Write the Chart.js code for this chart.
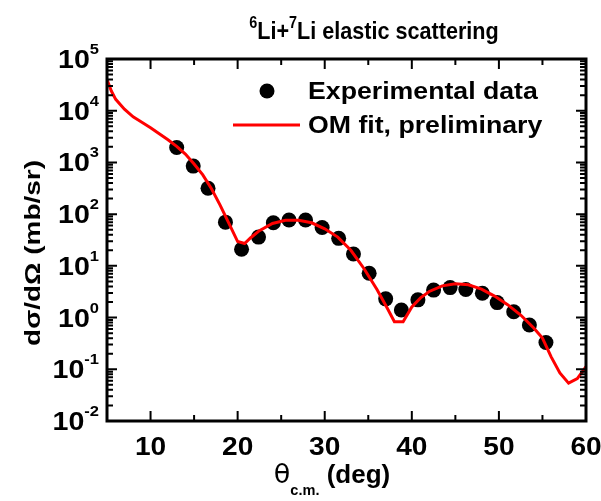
<!DOCTYPE html>
<html>
<head>
<meta charset="utf-8">
<script src="https://cdn.jsdelivr.net/npm/chart.js@4.4.1/dist/chart.umd.min.js"></script>
<style>
  html, body { margin: 0; padding: 0; background: #fff; }
  #wrap { width: 601px; height: 501px; }
</style>
</head>
<body>
<div id="wrap"><canvas id="chart" width="601" height="501"></canvas></div>
<script>
// experimental points (theta c.m. in deg, dsigma/dOmega in mb/sr)
const expTheta = [13.0, 14.9, 16.6, 18.6, 20.45, 22.4, 24.1, 25.9, 27.8, 29.7, 31.6, 33.3,
                  35.1, 37.0, 38.8, 40.7, 42.5, 44.4, 46.2, 48.1, 49.8, 51.7, 53.5, 55.4];
const expSigma = [1950, 850, 316, 70, 21, 36, 68, 77, 77, 55, 34, 17,
                  7.2, 2.3, 1.4, 2.2, 3.4, 3.8, 3.5, 2.95, 1.95, 1.3, 0.72, 0.33];

// optical model curve
const fitTheta = [5.0, 5.5, 6.0, 7.0, 8.0, 9.0, 10.0, 11.0, 12.0, 13.0, 14.0, 15.0, 16.0, 17.0,
                  18.0, 19.0, 20.0, 20.8, 21.5, 22.5, 24.0, 25.5, 27.0, 28.5, 30.0, 31.5, 33.0,
                  34.5, 36.0, 37.2, 38.0, 39.0, 40.0, 41.0, 42.0, 43.5, 45.0, 46.5, 48.0, 49.5,
                  51.0, 52.5, 54.0, 55.0, 56.0, 57.0, 58.0, 59.0, 60.0];
const fitSigma = [40000, 24000, 16600, 10700, 7600, 6000, 4700, 3600, 2750, 2050, 1450, 930, 575, 310,
                  148, 66, 29.5, 27, 35, 48, 66, 76, 76, 68, 52, 36, 20,
                  8.9, 3.5, 1.5, 0.83, 0.83, 1.6, 2.4, 3.2, 4.1, 4.5, 4.3, 3.55, 2.6,
                  1.78, 1.12, 0.63, 0.4, 0.174, 0.085, 0.054, 0.066, 0.112];

const xTicks = [10, 20, 30, 40, 50, 60];
const xMinor = [5, 15, 25, 35, 45, 55];
const yExp = [-2, -1, 0, 1, 2, 3, 4, 5];

const BOLD = '"Liberation Sans", Arial, sans-serif';

// draw a run of text pieces, stretched horizontally by sx
function rich(ctx, parts, x, y, align, sx) {
    let w = 0;
    parts.forEach(p => {
        ctx.font = (p.w || 'bold') + ' ' + p.s + 'px ' + (p.f || BOLD);
        p.width = ctx.measureText(p.t).width;
        w += p.width;
    });
    let x0 = x;
    if (align === 'center') x0 = x - w * sx / 2;
    else if (align === 'right') x0 = x - w * sx;
    ctx.save();
    ctx.translate(x0, y);
    ctx.scale(sx, 1);
    ctx.textBaseline = 'alphabetic';
    ctx.textAlign = 'left';
    ctx.fillStyle = '#000';
    let cx = 0;
    parts.forEach(p => {
        ctx.font = (p.w || 'bold') + ' ' + p.s + 'px ' + (p.f || BOLD);
        ctx.fillText(p.t, cx, p.dy || 0);
        cx += p.width;
    });
    ctx.restore();
}

const decor = {
    id: 'decor',
    afterDraw(chart) {
        const ctx = chart.ctx;
        const a = chart.chartArea;
        const xs = chart.scales.x, ys = chart.scales.y;
        ctx.save();
        ctx.strokeStyle = '#000';
        ctx.lineCap = 'butt';

        // inward ticks
        ctx.lineWidth = 2;
        ctx.beginPath();
        xTicks.concat(xMinor).forEach(v => {
            const px = xs.getPixelForValue(v);
            const len = xTicks.includes(v) ? 10 : 6;
            ctx.moveTo(px, a.bottom); ctx.lineTo(px, a.bottom - len);
            ctx.moveTo(px, a.top); ctx.lineTo(px, a.top + len);
        });
        yExp.forEach(e => {
            for (let m = 1; m <= 9; m++) {
                const v = m * Math.pow(10, e);
                if (v > 1e5 + 1) break;
                const py = ys.getPixelForValue(v);
                const len = m === 1 ? 10 : 6;
                ctx.moveTo(a.left, py); ctx.lineTo(a.left + len, py);
                ctx.moveTo(a.right, py); ctx.lineTo(a.right - len, py);
            }
        });
        ctx.stroke();

        // frame
        ctx.lineWidth = 3;
        ctx.strokeRect(a.left, a.top, a.right - a.left, a.bottom - a.top);

        // x tick labels
        xTicks.forEach(v => {
            rich(ctx, [{ t: String(v), s: 26 }], xs.getPixelForValue(v), 455, 'center', 1.08);
        });
        // y tick labels
        yExp.forEach(e => {
            const py = ys.getPixelForValue(Math.pow(10, e));
            rich(ctx, [{ t: '10', s: 26 }, { t: String(e), s: 15, dy: -14 }], 99, py + 9, 'right', 1.1);
        });

        // title
        rich(ctx, [{ t: '6', s: 16, dy: -11 }, { t: 'Li+', s: 24 }, { t: '7', s: 16, dy: -11 },
                   { t: 'Li elastic scattering', s: 24 }], 374, 39, 'center', 0.9);

        // x axis title
        rich(ctx, [{ t: 'θ', s: 26, w: 'normal', f: '"DejaVu Sans", sans-serif' }, { t: 'c.m.', s: 14, dy: 12 },
                   { t: ' (deg)', s: 25 }], 332, 483, 'center', 1.04);

        // y axis title
        ctx.save();
        ctx.translate(40, 253);
        ctx.rotate(-Math.PI / 2);
        rich(ctx, [{ t: 'dσ/dΩ (mb/sr)', s: 22 }], 0, 0, 'center', 1.27);
        ctx.restore();

        // legend
        ctx.fillStyle = '#000';
        ctx.beginPath();
        ctx.arc(267, 91, 7.5, 0, Math.PI * 2);
        ctx.fill();
        rich(ctx, [{ t: 'Experimental data', s: 23 }], 308, 99, 'left', 1.16);
        ctx.strokeStyle = '#ff0000';
        ctx.lineWidth = 3;
        ctx.beginPath();
        ctx.moveTo(233, 125); ctx.lineTo(300, 125);
        ctx.stroke();
        rich(ctx, [{ t: 'OM fit, preliminary', s: 23 }], 308, 133, 'left', 1.16);
        ctx.restore();
    }
};

new Chart(document.getElementById('chart'), {
    type: 'scatter',
    data: {
        datasets: [{
            label: 'OM fit, preliminary',
            data: fitTheta.map((t, i) => ({ x: t, y: fitSigma[i] })),
            showLine: true,
            borderColor: '#ff0000',
            borderWidth: 3,
            pointRadius: 0,
            tension: 0,
            order: 1
        }, {
            label: 'Experimental data',
            data: expTheta.map((t, i) => ({ x: t, y: expSigma[i] })),
            backgroundColor: '#000',
            borderWidth: 0,
            pointRadius: 7.5,
            order: 2
        }]
    },
    options: {
        responsive: false,
        animation: false,
        layout: { padding: { left: 107, top: 59, right: 15, bottom: 80 } },
        scales: {
            x: { type: 'linear', min: 5, max: 60, display: false },
            y: { type: 'logarithmic', min: 0.01, max: 1e5, display: false }
        },
        plugins: { legend: { display: false }, tooltip: { enabled: false } }
    },
    plugins: [decor]
});
</script>
</body>
</html>
